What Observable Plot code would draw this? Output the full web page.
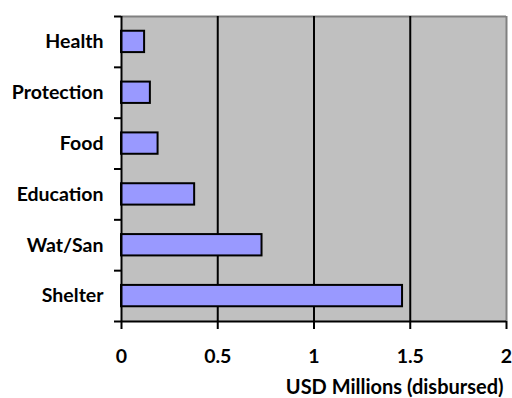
<!DOCTYPE html>
<html>
<head>
<meta charset="utf-8">
<script src="https://cdn.jsdelivr.net/npm/d3@7"></script>
<script src="https://cdn.jsdelivr.net/npm/@observablehq/plot@0.6"></script>
<style>
  html, body { margin: 0; padding: 0; background: #ffffff; }
</style>
</head>
<body>
<div id="chart"></div>
<script>
// Sectors, listed top to bottom, with funds disbursed (USD millions)
const categories = ["Health", "Protection", "Food", "Education", "Wat/San", "Shelter"];
const disbursed = [0.12, 0.15, 0.19, 0.38, 0.73, 1.46];
const xTicks = [0, 0.5, 1, 1.5, 2];
const xTickLabels = ["0", "0.5", "1", "1.5", "2"];
const gridValues = [0.5, 1, 1.5];
const axisTitle = "USD Millions (disbursed)";

// Each sector occupies one unit slot on the vertical axis, bottom slot first
const n = categories.length;
const rows = categories.map((category, k) => ({category, value: disbursed[k], slot: n - 1 - k}));
const boundaries = d3.range(n + 1);
const centers = d3.range(n).map(i => i + 0.5);

const chart = Plot.plot({
  width: 512,
  height: 398,
  marginLeft: 121,
  marginRight: 6,
  marginTop: 16,
  marginBottom: 77,
  style: {fontFamily: "Lato, 'Open Sans', sans-serif", fontWeight: "bold", fontSize: "19.5px", color: "black", background: "white"},
  x: {domain: [0, 2]},
  y: {domain: [0, n]},
  marks: [
    Plot.frame({fill: "#c0c0c0"}),
    Plot.ruleY([n], {stroke: "#808080", strokeWidth: 2}),
    Plot.ruleX([2], {stroke: "#808080", strokeWidth: 2}),
    Plot.ruleX(gridValues, {stroke: "black", strokeWidth: 2}),
    Plot.rectX(rows, {
      x1: 0,
      x2: "value",
      y1: d => d.slot + 0.29,
      y2: d => d.slot + 0.71,
      fill: "#9999ff",
      stroke: "black",
      strokeWidth: 2
    }),
    Plot.ruleX([0], {stroke: "black", strokeWidth: 2}),
    Plot.ruleY([0], {stroke: "black", strokeWidth: 2}),
    Plot.axisX(xTicks, {
      tickSize: 8,
      tickPadding: 20,
      strokeWidth: 2,
      tickFormat: (d, i) => xTickLabels[i],
      label: null
    }),
    Plot.axisY(boundaries, {tickSize: 7, strokeWidth: 2, tickFormat: () => "", label: null}),
    Plot.axisY(centers, {
      tickSize: 0,
      tickPadding: 18,
      tickFormat: d => categories[n - 1 - Math.floor(d)],
      label: null
    }),
    // Axis title, right-aligned beneath the tick labels
    Plot.text([axisTitle], {
      frameAnchor: "bottom-right",
      textAnchor: "end",
      lineAnchor: "bottom",
      dx: -3,
      dy: 72,
      fontSize: 20,
      fontWeight: "bold",
      fill: "black"
    })
  ]
});

document.getElementById("chart").appendChild(chart);
</script>
</body>
</html>
